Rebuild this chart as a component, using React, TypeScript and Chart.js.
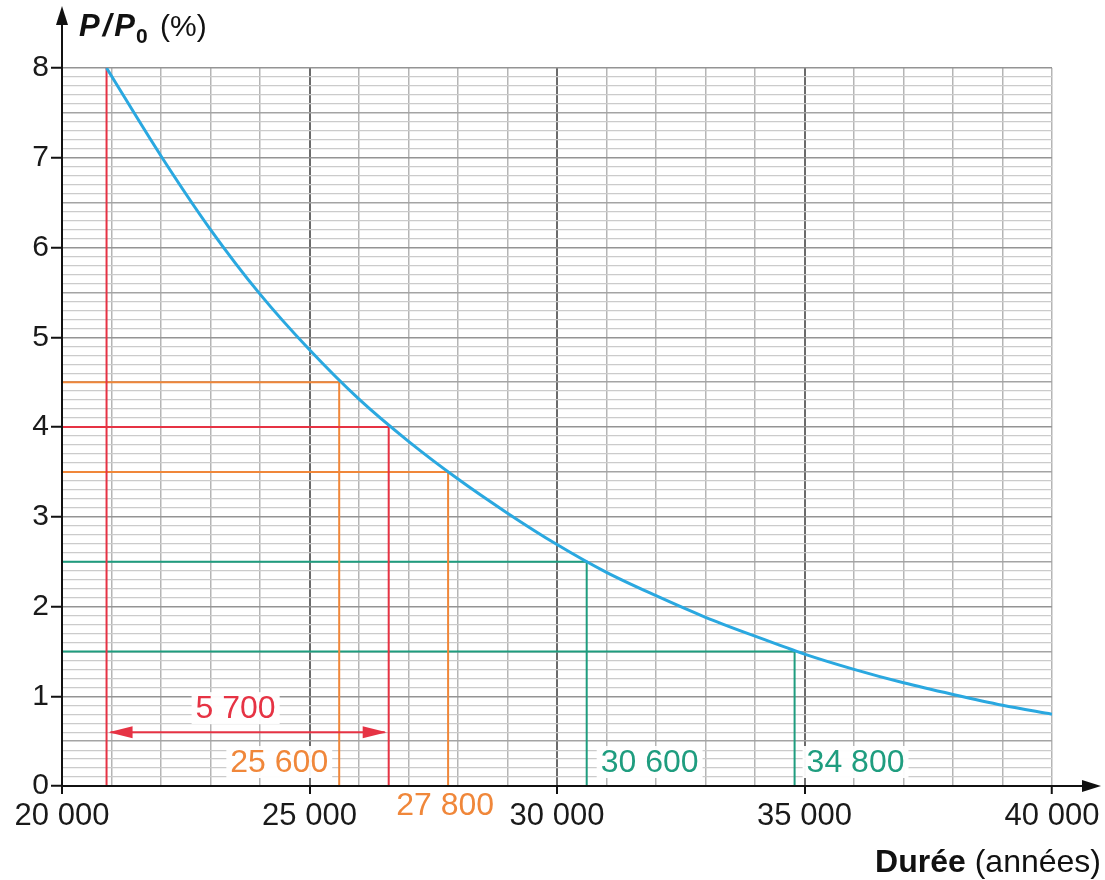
import React, { useEffect, useRef } from "react";
import { Chart, registerables } from "chart.js";

Chart.register(...registerables);

// Decay curve (years -> P/P0 in %)
const curveYears = [20900, 22000, 23000, 24000, 25000, 26000, 27000, 28000, 29000, 30000, 31000, 32000, 33000, 34000, 35000, 36000, 37000, 38000, 39000, 40000];
const curveValues = [8.0, 7.02, 6.2, 5.48, 4.86, 4.31, 3.84, 3.42, 3.04, 2.69, 2.38, 2.12, 1.88, 1.67, 1.47, 1.3, 1.15, 1.02, 0.9, 0.8];

// Start of the reading and the half-value reading
const startYear = 20900;
const startValue = 8;
const halfYear = 26600;
const halfValue = 4;

// Guide readings (value -> year)
const guideValues = [4.5, 3.5, 2.5, 1.5];
const guideYears = [25600, 27800, 30600, 34800];
const guideKinds = ["orange", "orange", "green", "green"];

// Axis ranges
const xMin = 20000;
const xMax = 40000;
const yMin = 0;
const yMax = 8;

const COLORS: Record<string, string> = {
  red: "#e63344",
  orange: "#f0873a",
  green: "#1f9d7f",
  blue: "#2aa8e0",
};

const FONT = "'Liberation Sans', Arial, Helvetica, sans-serif";

const fmt = (v: number) => {
  const s = String(Math.round(v));
  return s.replace(/\B(?=(\d{3})+(?!\d))/g, " ");
};

const isMult = (v: number, m: number) => Math.abs(v / m - Math.round(v / m)) < 1e-6;

const overlayPlugin = {
  id: "overlay",
  afterDatasetsDraw(chart: any) {
    const { ctx, chartArea, scales } = chart;
    const xs = scales.x;
    const ys = scales.y;
    const X = (v: number) => xs.getPixelForValue(v);
    const Y = (v: number) => ys.getPixelForValue(v);
    const left = chartArea.left;
    const bottom = chartArea.bottom;

    ctx.save();
    // Axes with arrows
    ctx.strokeStyle = "#111";
    ctx.fillStyle = "#111";
    ctx.lineWidth = 2;
    ctx.beginPath();
    ctx.moveTo(left, bottom);
    ctx.lineTo(left, 20);
    ctx.moveTo(left, bottom);
    ctx.lineTo(1088, bottom);
    ctx.stroke();
    ctx.beginPath();
    ctx.moveTo(left, 6);
    ctx.lineTo(left - 6, 25);
    ctx.lineTo(left + 6, 25);
    ctx.closePath();
    ctx.fill();
    ctx.beginPath();
    ctx.moveTo(1101, bottom);
    ctx.lineTo(1082, bottom - 6);
    ctx.lineTo(1082, bottom + 6);
    ctx.closePath();
    ctx.fill();

    // Double arrow for the half-life
    const ay = Y(0.6);
    const ax1 = X(startYear);
    const ax2 = X(halfYear);
    ctx.strokeStyle = COLORS.red;
    ctx.fillStyle = COLORS.red;
    ctx.lineWidth = 2;
    ctx.beginPath();
    ctx.moveTo(ax1 + 4, ay);
    ctx.lineTo(ax2 - 4, ay);
    ctx.stroke();
    ctx.beginPath();
    ctx.moveTo(ax1 + 2, ay);
    ctx.lineTo(ax1 + 26, ay - 6);
    ctx.lineTo(ax1 + 26, ay + 6);
    ctx.closePath();
    ctx.fill();
    ctx.beginPath();
    ctx.moveTo(ax2 - 2, ay);
    ctx.lineTo(ax2 - 26, ay - 6);
    ctx.lineTo(ax2 - 26, ay + 6);
    ctx.closePath();
    ctx.fill();

    // Labels with white boxes
    const label = (text: string, x: number, y: number, align: "left" | "right" | "center", color: string) => {
      ctx.font = `32px ${FONT}`;
      const w = ctx.measureText(text).width;
      let lx = x;
      if (align === "right") lx = x - w;
      if (align === "center") lx = x - w / 2;
      ctx.fillStyle = "rgba(255,255,255,0.95)";
      ctx.fillRect(lx - 4, y - 16, w + 8, 32);
      ctx.fillStyle = color;
      ctx.textAlign = "left";
      ctx.textBaseline = "middle";
      ctx.fillText(text, lx, y + 1);
    };
    label(fmt(halfYear - startYear), (ax1 + ax2) / 2 - 12, ay - 24, "center", COLORS.red);
    label(fmt(guideYears[0]), X(guideYears[0]) - 11, Y(0) - 24, "right", COLORS[guideKinds[0]]);
    label(fmt(guideYears[1]), X(guideYears[1]) - 3, Y(0) + 19, "center", COLORS[guideKinds[1]]);
    label(fmt(guideYears[2]), X(guideYears[2]) + 14, Y(0) - 24, "left", COLORS[guideKinds[2]]);
    label(fmt(guideYears[3]), X(guideYears[3]) + 12, Y(0) - 24, "left", COLORS[guideKinds[3]]);

    // Axis titles
    ctx.fillStyle = "#111";
    ctx.textBaseline = "alphabetic";
    ctx.textAlign = "left";
    ctx.font = `italic bold 31px ${FONT}`;
    try {
      (ctx as any).letterSpacing = "3px";
    } catch (e) {}
    ctx.fillText("P/P", 79, 36);
    try {
      (ctx as any).letterSpacing = "0px";
    } catch (e) {}
    ctx.font = `bold 21px ${FONT}`;
    ctx.fillText("0", 136, 43);
    ctx.font = `30px ${FONT}`;
    ctx.fillText("(%)", 160, 36);

    ctx.textAlign = "right";
    ctx.font = `32px ${FONT}`;
    const rest = " (années)";
    ctx.fillText(rest, 1101, 872);
    const rw = ctx.measureText(rest).width;
    ctx.font = `bold 32px ${FONT}`;
    ctx.fillText("Durée", 1101 - rw, 872);
    ctx.restore();
  },
};

export default function App() {
  const ref = useRef<HTMLCanvasElement | null>(null);

  useEffect(() => {
    if (!ref.current) return;
    const curve = curveYears.map((x, i) => ({ x, y: curveValues[i] }));
    const guideSets = guideYears.map((yr, i) => ({
      type: "line" as const,
      data: [
        { x: xMin, y: guideValues[i] },
        { x: yr, y: guideValues[i] },
        { x: yr, y: yMin },
      ],
      borderColor: COLORS[guideKinds[i]],
      borderWidth: 2,
      pointRadius: 0,
      tension: 0,
      fill: false,
    }));
    const chart = new Chart(ref.current, {
      type: "line",
      data: {
        datasets: [
          {
            data: curve,
            borderColor: COLORS.blue,
            borderWidth: 3,
            pointRadius: 0,
            cubicInterpolationMode: "monotone",
            fill: false,
          },
          {
            data: [
              { x: xMin, y: halfValue },
              { x: halfYear, y: halfValue },
              { x: halfYear, y: yMin },
            ],
            borderColor: COLORS.red,
            borderWidth: 2,
            pointRadius: 0,
            fill: false,
          },
          {
            data: [
              { x: startYear, y: yMin },
              { x: startYear, y: startValue },
            ],
            borderColor: COLORS.red,
            borderWidth: 2,
            pointRadius: 0,
            fill: false,
          },
          ...guideSets,
        ] as any,
      },
      options: {
        animation: false,
        responsive: false,
        events: [],
        layout: { padding: { left: 0, top: 68, right: 53, bottom: 0 } },
        plugins: { legend: { display: false }, tooltip: { enabled: false } },
        scales: {
          x: {
            type: "linear",
            min: xMin,
            max: xMax,
            border: { display: false },
            ticks: {
              stepSize: 1000,
              autoSkip: false,
              maxRotation: 0,
              padding: 4,
              color: "#1a1a1a",
              font: { family: FONT, size: 31 },
              callback: (v: any) => (isMult(Number(v), 5000) ? fmt(Number(v)) : ""),
            },
            grid: {
              drawTicks: true,
              tickLength: 8,
              tickColor: (c: any) => (isMult(c.tick.value, 5000) ? "#111" : "rgba(0,0,0,0)"),
              tickWidth: 2,
              color: (c: any) => (isMult(c.tick.value, 5000) && c.tick.value !== xMax ? "#6b6b6b" : "#b5b5b5"),
              lineWidth: (c: any) => (isMult(c.tick.value, 5000) && c.tick.value !== xMax ? 2 : 1.5),
            },
            afterFit: (s: any) => {
              s.height = 94;
            },
          } as any,
          y: {
            type: "linear",
            min: yMin,
            max: yMax,
            border: { display: false },
            ticks: {
              stepSize: 0.1,
              autoSkip: false,
              padding: 2,
              color: "#1a1a1a",
              font: { family: FONT, size: 30 },
              callback: (v: any) => (isMult(Number(v), 1) ? String(Math.round(Number(v))) : ""),
            },
            grid: {
              drawTicks: true,
              tickLength: 11,
              tickColor: (c: any) => (isMult(c.tick.value, 1) ? "#111" : "rgba(0,0,0,0)"),
              tickWidth: 2,
              color: (c: any) =>
                isMult(c.tick.value, 1) ? "#949494" : isMult(c.tick.value, 0.5) ? "#a4a4a4" : "#cbcbcb",
              lineWidth: (c: any) => (isMult(c.tick.value, 0.5) ? 1.5 : 1.2),
            },
            afterFit: (s: any) => {
              s.width = 62;
            },
          } as any,
        },
      },
      plugins: [overlayPlugin],
    });
    return () => chart.destroy();
  }, []);

  return (
    <div style={{ position: "absolute", left: 0, top: 0, width: 1105, height: 880, background: "#fff" }}>
      <canvas ref={ref} width={1105} height={880} style={{ display: "block" }} />
    </div>
  );
}
